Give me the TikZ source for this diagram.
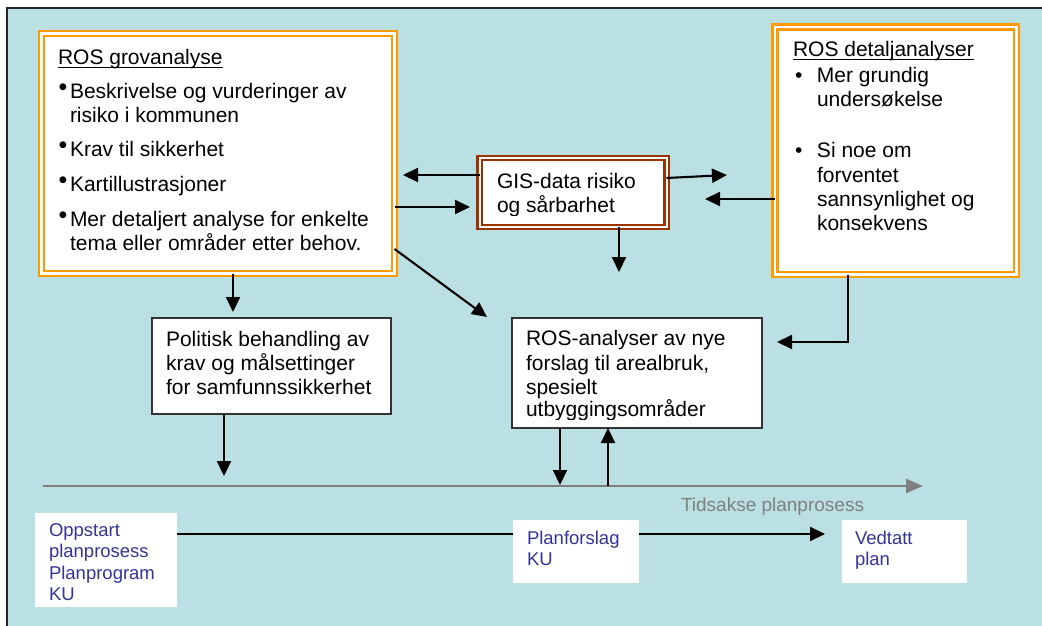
\documentclass[tikz,border=0pt]{standalone}
\usepackage{fontspec}
\setmainfont{Liberation Sans}
\usetikzlibrary{arrows.meta}
\definecolor{bgteal}{RGB}{187,224,227}
\definecolor{frameorange}{RGB}{255,153,0}
\definecolor{framebrown}{RGB}{153,51,0}
\definecolor{stageblue}{RGB}{51,51,153}
\definecolor{axisgray}{RGB}{128,128,128}
\newcommand\upbullet{\makebox[10pt][l]{\hspace*{-1.5pt}\raisebox{3pt}{\fontsize{25}{25}\selectfont •}}}
\newcommand\listbullet{\makebox[22pt][l]{•}}
\begin{document}
\begin{tikzpicture}[x=1pt,y=-1pt,
  every node/.style={inner sep=0pt, outer sep=0pt},
  body/.style={font=\fontsize{21}{24}\selectfont, anchor=base west, text=black},
  stage/.style={font=\fontsize{18.5}{21}\selectfont, anchor=base west, text=stageblue},
  orangebox/.style={rectangle, draw=frameorange, double=white, line width=2.6pt, double distance=2.2pt, fill=white},
  brownbox/.style={rectangle, draw=framebrown, double=white!80!bgteal, line width=2.4pt, double distance=2pt, fill=white},
  plainbox/.style={rectangle, draw=black!80, line width=2.4pt, fill=white},
  stagebox/.style={rectangle, fill=white},
  arr/.style={line width=2.1pt, -{Triangle[length=15pt,width=14pt]}},
  plainline/.style={line width=2.1pt},
  axisarr/.style={draw=axisgray, line width=2.5pt, -{Triangle[length=17pt,width=14pt]}},
  uline/.style={line width=1.3pt}
]
\useasboundingbox (0,0) rectangle (1042,626);
% page and panel
\fill[white] (0,0) rectangle (1042,626);
\fill[bgteal] (7,8) rectangle (1042,626);
\draw[line width=1.6pt, black!85] (7,626) -- (7,8) -- (1042,8);

% boxes
\node[orangebox, minimum width=353pt, minimum height=240pt] (grov) at (218,153.5) {};
\node[orangebox, minimum width=241.5pt, minimum height=247.5pt] (detalj) at (895.75,150.75) {};
\node[brownbox, minimum width=187pt, minimum height=69pt] (gis) at (573,192.5) {};
\node[plainbox, minimum width=239pt, minimum height=96pt] (pol) at (271.5,366) {};
\node[plainbox, minimum width=250pt, minimum height=110pt] (ros) at (637,373) {};
\node[stagebox, minimum width=142pt, minimum height=94pt] (opp) at (106,560) {};
\node[stagebox, minimum width=126pt, minimum height=63pt] (plan) at (576,551.5) {};
\node[stagebox, minimum width=125pt, minimum height=63pt] (ved) at (904.5,551.5) {};

% ROS grovanalyse text
\node[body] (grovtitle) at (58,65) {ROS grovanalyse};
\draw[uline] ([yshift=-2.5pt]grovtitle.base west) -- ([yshift=-2.5pt]grovtitle.base east);
\node[body] (g1) at (60,98.5) {\upbullet Beskrivelse og vurderinger av};
\node[body] (g2) at (70,122.5) {risiko i kommunen};
\node[body] (g3) at (60,156.5) {\upbullet Krav til sikkerhet};
\node[body] (g4) at (60,191.5) {\upbullet Kartillustrasjoner};
\node[body] (g5) at (60,226.5) {\upbullet Mer detaljert analyse for enkelte};
\node[body] (g6) at (70,250.5) {tema eller områder etter behov.};

% ROS detaljanalyser text
\node[body] (dettitle) at (793,57) {ROS detaljanalyser};
\draw[uline] ([yshift=-2.5pt]dettitle.base west) -- ([yshift=-2.5pt]dettitle.base east);
\node[body] (d1) at (795,82.5) {\listbullet Mer grundig};
\node[body] (d2) at (817,106.5) {undersøkelse};
\node[body] (d3) at (795,157.5) {\listbullet Si noe om};
\node[body] (d4) at (817,182) {forventet};
\node[body] (d5) at (817,206) {sannsynlighet og};
\node[body] (d6) at (817,230.5) {konsekvens};

% GIS text, cut off at the text frame
\begin{scope}
\clip (482,161) rectangle (664,215);
\node[body] (gt1) at (497,188.3) {GIS-data risiko};
\node[body] (gt2) at (497,212.3) {og sårbarhet};
\end{scope}

% Politisk behandling text
\node[body] (p1) at (166,346) {Politisk behandling av};
\node[body] (p2) at (166,370) {krav og målsettinger};
\node[body] (p3) at (166,394) {for samfunnssikkerhet};

% ROS-analyser text, cut off at the text frame
\begin{scope}
\clip (514,320) rectangle (760,419);
\node[body] (r1) at (526,345) {ROS-analyser av nye};
\node[body] (r2) at (526,370) {forslag til arealbruk,};
\node[body] (r3) at (526,394) {spesielt};
\node[body] (r4) at (526,416.7) {utbyggingsområder};
\end{scope}

% planning stages
\node[stage] (o1) at (49,536.7) {Oppstart};
\node[stage] (o2) at (49,557.5) {planprosess};
\node[stage] (o3) at (49,579.5) {Planprogram};
\node[stage] (o4) at (49,600.7) {KU};
\node[stage] (pf1) at (527,544) {Planforslag};
\node[stage] (pf2) at (527,565) {KU};
\node[stage] (v1) at (855,544) {Vedtatt};
\node[stage] (v2) at (855,565) {plan};

% time axis
\coordinate (ax0) at (43,486);
\coordinate (ax1) at (923,486);
\draw[axisarr] (ax0) -- (ax1);
\node[font=\fontsize{19}{21}\selectfont, anchor=base west, text=axisgray] (axlabel) at (681,511.7) {Tidsakse planprosess};

% connectors
\coordinate (a1) at (403,175);
\draw[arr] (gis.west |- a1) -- (a1);
\coordinate (a2) at (470,207);
\draw[arr] (grov.east |- a2) -- (a2);
\coordinate (a3s) at (0,178);
\coordinate (a3) at (727,175);
\draw[arr] (gis.east |- a3s) -- (a3);
\coordinate (a4) at (705,199);
\draw[arr] (detalj.west |- a4) -- (a4);
\coordinate (a5) at (619,272);
\draw[arr] (gis.south -| a5) -- (a5);
\coordinate (a6) at (233,312);
\draw[arr] (grov.south -| a6) -- (a6);
\coordinate (a7s) at (0,249);
\coordinate (a7) at (487,317);
\draw[arr] (grov.east |- a7s) -- (a7);
\coordinate (a8x) at (848,0);
\coordinate (a8) at (777,342);
\draw[arr] (detalj.south -| a8x) |- (a8);
\coordinate (a9) at (224,476);
\draw[arr] (pol.south -| a9) -- (a9);
\coordinate (a10) at (560,485);
\draw[arr] (ros.south -| a10) -- (a10);
\coordinate (a11) at (608,486);
\draw[arr] (a11) -- (ros.south -| a11);
\coordinate (a12) at (0,534);
\draw[plainline] (opp.east |- a12) -- (plan.west |- a12);
\coordinate (a13) at (825,534);
\draw[arr] (plan.east |- a13) -- (a13);
\end{tikzpicture}
\end{document}
